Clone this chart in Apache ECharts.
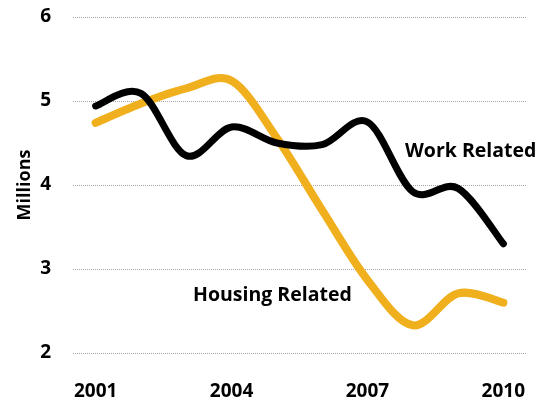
<!DOCTYPE html>
<html>
<head>
<meta charset="utf-8">
<script src="https://cdn.jsdelivr.net/npm/echarts@6/dist/echarts.min.js"></script>
<style>
    html, body {margin: 0; padding: 0; background: #ffffff;}
    #chart {width: 549px; height: 402px;}
</style>
</head>
<body>
<div id="chart"></div>
<script>
// 年份与两条序列（单位：百万）
var years = ['2001', '2002', '2003', '2004', '2005', '2006', '2007', '2008', '2009', '2010'];
var workRelated = [4.94, 5.09, 4.35, 4.69, 4.50, 4.48, 4.75, 3.92, 3.96, 3.30];
var housingRelated = [4.74, 4.97, 5.15, 5.24, 4.56, 3.70, 2.87, 2.33, 2.71, 2.60];
var yTicks = [2, 3, 4, 5, 6];

var font = 'Open Sans';
var chart = echarts.init(document.getElementById('chart'));

// 平滑曲线（Catmull-Rom 转贝塞尔），坐标全部通过 api.coord 换算
function smoothLine(values, color, width) {
    return function (params, api) {
        if (params.dataIndex !== 0) {
            return null;
        }
        var pts = values.map(function (v, i) {
            return api.coord([i, v]);
        });
        var d = 'M' + pts[0][0] + ' ' + pts[0][1];
        for (var i = 0; i < pts.length - 1; i++) {
            var p0 = pts[Math.max(i - 1, 0)];
            var p1 = pts[i];
            var p2 = pts[i + 1];
            var p3 = pts[Math.min(i + 2, pts.length - 1)];
            var c1x = p1[0] + (p2[0] - p0[0]) / 6;
            var c1y = p1[1] + (p2[1] - p0[1]) / 6;
            var c2x = p2[0] - (p3[0] - p1[0]) / 6;
            var c2y = p2[1] - (p3[1] - p1[1]) / 6;
            d += ' C' + c1x + ' ' + c1y + ' ' + c2x + ' ' + c2y + ' ' + p2[0] + ' ' + p2[1];
        }
        return {
            type: 'path',
            shape: {pathData: d},
            style: {
                fill: null,
                stroke: color,
                lineWidth: width,
                lineCap: 'round',
                lineJoin: 'round'
            }
        };
    };
}

function pairs(values) {
    return values.map(function (v, i) {
        return [i, v];
    });
}

var option = {
    backgroundColor: '#ffffff',
    animation: false,
    grid: {
        left: 73,
        right: 23,
        top: 17,
        bottom: 49
    },
    xAxis: {
        type: 'category',
        data: years,
        boundaryGap: true,
        axisLine: {show: false},
        axisTick: {show: false},
        axisLabel: {
            interval: 2,
            margin: 29,
            color: '#000000',
            fontFamily: font,
            fontWeight: 'bold',
            fontSize: 19
        }
    },
    yAxis: {
        type: 'value',
        min: yTicks[0],
        max: yTicks[yTicks.length - 1],
        interval: 1,
        axisLine: {show: false},
        axisTick: {show: false},
        axisLabel: {
            margin: 22,
            color: '#000000',
            fontFamily: font,
            fontWeight: 'bold',
            fontSize: 19
        },
        splitLine: {
            lineStyle: {
                color: '#a6a6a6',
                type: 'dotted',
                width: 1
            }
        }
    },
    series: [{
        name: 'Housing Related',
        type: 'custom',
        data: pairs(housingRelated),
        encode: {x: 0, y: 1},
        renderItem: smoothLine(housingRelated, '#F0AF1C', 8),
        z: 2
    }, {
        name: 'Work Related',
        type: 'custom',
        data: pairs(workRelated),
        encode: {x: 0, y: 1},
        renderItem: smoothLine(workRelated, '#000000', 7),
        z: 3
    }],
    graphic: [{
        type: 'text',
        x: 25,
        y: 185,
        rotation: Math.PI / 2,
        style: {
            text: 'Millions',
            fill: '#000000',
            font: 'bold 18px "Open Sans"',
            align: 'center',
            verticalAlign: 'middle'
        }
    }, {
        type: 'text',
        left: 405,
        top: 141,
        style: {
            text: 'Work Related',
            fill: '#000000',
            font: 'bold 19.5px "Open Sans"'
        }
    }, {
        type: 'text',
        left: 193,
        top: 285,
        style: {
            text: 'Housing Related',
            fill: '#000000',
            font: 'bold 19.5px "Open Sans"'
        }
    }]
};
chart.setOption(option);
</script>
</body>
</html>
